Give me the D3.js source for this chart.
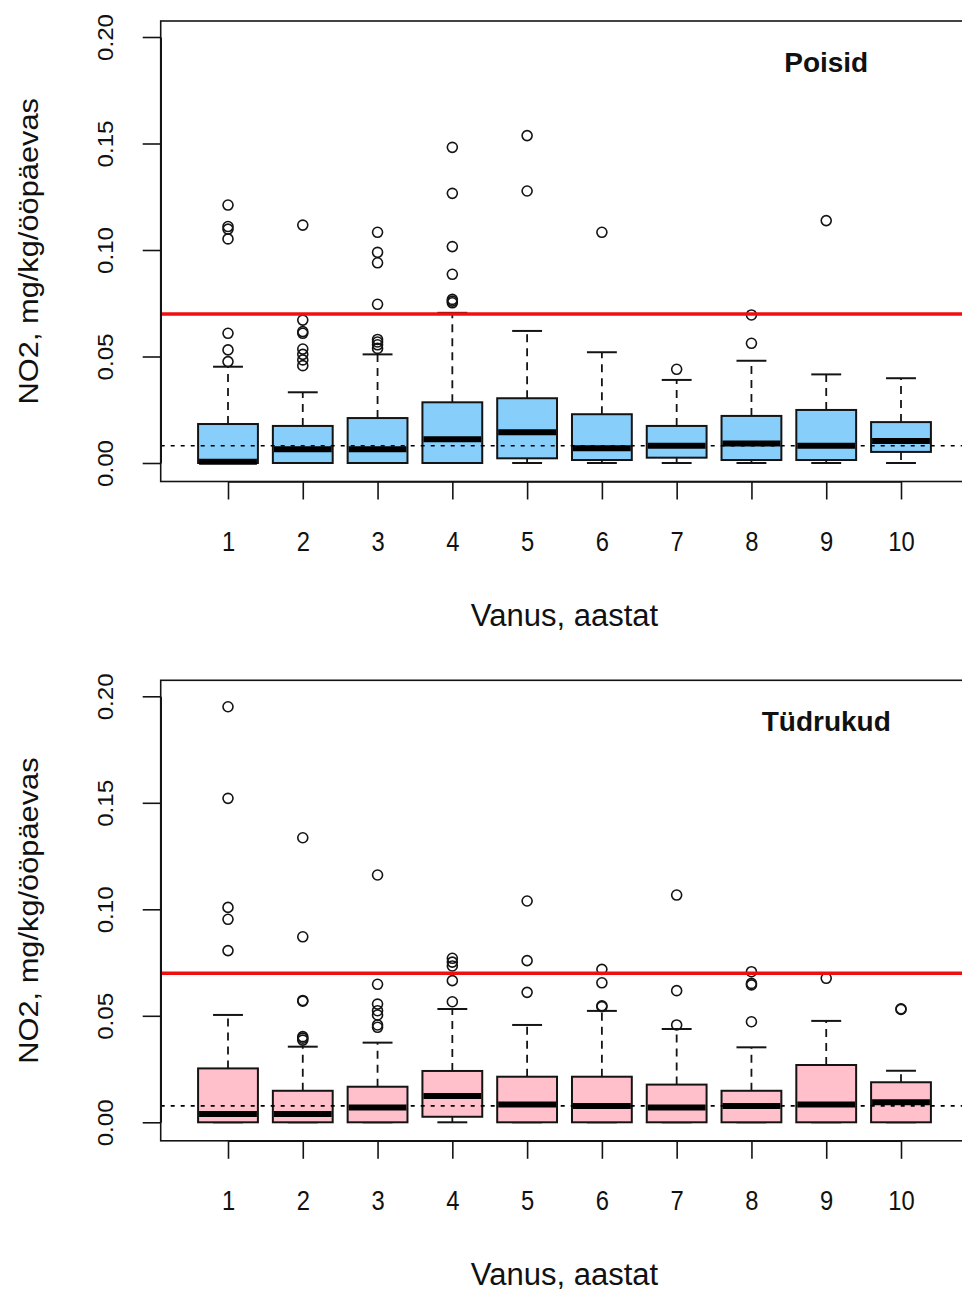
<!DOCTYPE html>
<html>
<head>
<meta charset="utf-8">
<script src="https://cdn.jsdelivr.net/npm/d3@7"></script>
<style>
  body { margin: 0; background: #fff; }
  svg text { font-family: "Liberation Sans", Arial, Helvetica, sans-serif; fill: #111; }
</style>
</head>
<body>
<svg id="chart" width="962" height="1295"></svg>
<script>
// Age groups (years)
const ages = [1, 2, 3, 4, 5, 6, 7, 8, 9, 10];
const yTicks = [0, 0.05, 0.10, 0.15, 0.20];

// Reference levels, mg/kg/day
const limitLevel = 0.07;
const boysDotted = 0.0081;
const girlsDotted = 0.0077;

// Boys: five-number summaries per age
const boysLower  = [0, 0, 0, 0, 0, 0, 0, 0, 0, 0];
const boysQ1     = [0, 0, 0, 0, 0.0022, 0.0014, 0.0025, 0.0014, 0.0014, 0.0052];
const boysMedian = [0.0006, 0.0064, 0.0064, 0.0111, 0.0144, 0.0069, 0.0081, 0.0092, 0.0081, 0.0103];
const boysQ3     = [0.0183, 0.0174, 0.0211, 0.0285, 0.0304, 0.0229, 0.0174, 0.0221, 0.0249, 0.0192];
const boysUpper  = [0.0452, 0.0332, 0.0510, 0.0705, 0.0620, 0.0520, 0.0390, 0.0480, 0.0416, 0.0398];
const boysOutliers = [
  [0.0476, 0.0531, 0.0609, 0.1052, 0.1098, 0.1110, 0.1211],
  [0.0457, 0.0484, 0.0510, 0.0535, 0.0609, 0.0617, 0.0671, 0.1117],
  [0.0538, 0.0555, 0.0568, 0.0580, 0.0745, 0.0940, 0.0989, 0.1083],
  [0.0752, 0.0760, 0.0768, 0.0886, 0.1016, 0.1266, 0.1482],
  [0.1277, 0.1537],
  [0.1083],
  [0.0440],
  [0.0562, 0.0695],
  [0.1138],
  []
];

// Girls: five-number summaries per age
const girlsLower  = [0, 0, 0, 0, 0, 0, 0, 0, 0, 0];
const girlsQ1     = [0, 0, 0, 0.0026, 0, 0, 0, 0, 0, 0];
const girlsMedian = [0.0039, 0.0039, 0.0069, 0.0123, 0.0084, 0.0077, 0.0069, 0.0077, 0.0084, 0.0094];
const girlsQ3     = [0.0253, 0.0148, 0.0167, 0.0241, 0.0214, 0.0214, 0.0177, 0.0148, 0.0269, 0.0188];
const girlsUpper  = [0.0504, 0.0355, 0.0374, 0.0532, 0.0457, 0.0523, 0.0438, 0.0352, 0.0476, 0.0242];
const girlsOutliers = [
  [0.0806, 0.0953, 0.1009, 0.1521, 0.1951],
  [0.0386, 0.0395, 0.0402, 0.0569, 0.0572, 0.0871, 0.1336],
  [0.0446, 0.0457, 0.0504, 0.0524, 0.0555, 0.0648, 0.1161],
  [0.0566, 0.0665, 0.0734, 0.0752, 0.0770],
  [0.0610, 0.0759, 0.1039],
  [0.0543, 0.0547, 0.0655, 0.0718],
  [0.0457, 0.0618, 0.1067],
  [0.0472, 0.0645, 0.0652, 0.0707],
  [0.0676],
  [0.0530, 0.0533]
];

const panels = [
  { title: "Poisid", fill: "#87CEFA", lower: boysLower, q1: boysQ1, median: boysMedian,
    q3: boysQ3, upper: boysUpper, outliers: boysOutliers, dotted: boysDotted, offset: 0 },
  { title: "Tüdrukud", fill: "#FFC0CB", lower: girlsLower, q1: girlsQ1, median: girlsMedian,
    q3: girlsQ3, upper: girlsUpper, outliers: girlsOutliers, dotted: girlsDotted, offset: 659.3 }
];

const svg = d3.select("#chart");
const ink = "#141414";

// Shared horizontal scale: age index to pixel
const x = d3.scaleLinear().domain([1, 10]).range([228, 901]);
const boxHalf = x(1.4) - x(1);      // box width 0.8 units
const stapleHalf = x(1.2) - x(1);   // staple half as wide as box
const plotLeft = x(0.1), plotRight = x(10.9);
const frameTop = 21, frameBottom = 481.5;

panels.forEach(p => {
  const g = svg.append("g").attr("transform", `translate(0,${p.offset})`);
  const y = d3.scaleLinear().domain([0, 0.2]).range([463, 37]);

  const idx = d3.range(ages.length);

  // whiskers (dashed)
  const wg = g.append("g").attr("stroke", ink).attr("stroke-width", 1.8)
    .attr("stroke-dasharray", "8,6").attr("fill", "none");
  idx.forEach(i => {
    const cx = x(ages[i]);
    if (p.upper[i] > p.q3[i])
      wg.append("line").attr("x1", cx).attr("x2", cx).attr("y1", y(p.q3[i])).attr("y2", y(p.upper[i]));
    if (p.lower[i] < p.q1[i])
      wg.append("line").attr("x1", cx).attr("x2", cx).attr("y1", y(p.q1[i])).attr("y2", y(p.lower[i]));
  });

  // staples
  const sg = g.append("g").attr("stroke", ink).attr("stroke-width", 2);
  idx.forEach(i => {
    const cx = x(ages[i]);
    [p.upper[i], p.lower[i]].forEach(v => {
      sg.append("line").attr("x1", cx - stapleHalf).attr("x2", cx + stapleHalf)
        .attr("y1", y(v)).attr("y2", y(v));
    });
  });

  // boxes
  g.append("g").selectAll("rect").data(idx).join("rect")
    .attr("x", i => x(ages[i]) - boxHalf)
    .attr("width", 2 * boxHalf)
    .attr("y", i => y(p.q3[i]))
    .attr("height", i => y(p.q1[i]) - y(p.q3[i]))
    .attr("fill", p.fill)
    .attr("stroke", ink)
    .attr("stroke-width", 2);

  // medians
  g.append("g").selectAll("line").data(idx).join("line")
    .attr("x1", i => x(ages[i]) - boxHalf + 1)
    .attr("x2", i => x(ages[i]) + boxHalf - 1)
    .attr("y1", i => y(p.median[i]))
    .attr("y2", i => y(p.median[i]))
    .attr("stroke", "#000")
    .attr("stroke-width", 6);

  // outliers
  const pts = idx.flatMap(i => p.outliers[i].map(v => ({ age: ages[i], v })));
  g.append("g").selectAll("circle").data(pts).join("circle")
    .attr("cx", d => x(d.age))
    .attr("cy", d => y(d.v))
    .attr("r", 5)
    .attr("fill", "none")
    .attr("stroke", ink)
    .attr("stroke-width", 1.6);

  // limit line
  g.append("line")
    .attr("x1", plotLeft).attr("x2", plotRight)
    .attr("y1", y(limitLevel)).attr("y2", y(limitLevel))
    .attr("stroke", "#ee1010").attr("stroke-width", 3.5);

  // dotted reference line
  g.append("line")
    .attr("x1", plotLeft).attr("x2", plotRight)
    .attr("y1", y(p.dotted)).attr("y2", y(p.dotted))
    .attr("stroke", "#000").attr("stroke-width", 1.6)
    .attr("stroke-dasharray", "4,6");

  // plot frame
  g.append("rect")
    .attr("x", plotLeft).attr("y", frameTop)
    .attr("width", plotRight - plotLeft).attr("height", frameBottom - frameTop)
    .attr("fill", "none").attr("stroke", ink).attr("stroke-width", 1.6);

  // x axis
  const xAxis = g.append("g").attr("transform", `translate(0,${frameBottom})`)
    .call(d3.axisBottom(x).tickValues(ages).tickSize(18).tickSizeOuter(0).tickFormat(d3.format("d")));
  xAxis.select(".domain").attr("stroke", ink).attr("stroke-width", 1.6);
  xAxis.selectAll(".tick line").attr("stroke", ink).attr("stroke-width", 1.6);
  xAxis.selectAll(".tick text")
    .attr("y", 69.5).attr("dy", null)
    .attr("transform", "scale(0.88,1)")
    .style("font-size", "27px").attr("fill", "#111");

  // y axis
  const yAxis = g.append("g").attr("transform", `translate(${plotLeft},0)`)
    .call(d3.axisLeft(y).tickValues(yTicks).tickSize(18).tickSizeOuter(0).tickFormat(d3.format(".2f")));
  yAxis.select(".domain").attr("stroke", ink).attr("stroke-width", 1.6);
  yAxis.selectAll(".tick line").attr("stroke", ink).attr("stroke-width", 1.6);
  yAxis.selectAll(".tick text")
    .attr("x", null).attr("dy", null)
    .attr("text-anchor", "middle")
    .attr("transform", "translate(-48,0) rotate(-90) scale(1.1,1)")
    .style("font-size", "22px").attr("fill", "#111");

  // axis titles
  g.append("text")
    .attr("x", (plotLeft + plotRight) / 2).attr("y", 626)
    .attr("text-anchor", "middle")
    .style("font-size", "31px")
    .text("Vanus, aastat");

  g.append("text")
    .attr("transform", `translate(38,${(frameTop + frameBottom) / 2}) rotate(-90) scale(1.1,1)`)
    .attr("text-anchor", "middle")
    .style("font-size", "28px")
    .text("NO2, mg/kg/ööpäevas");

  // panel title
  g.append("text")
    .attr("x", x(9)).attr("y", 72)
    .attr("text-anchor", "middle")
    .style("font-size", "28px").style("font-weight", "bold")
    .text(p.title);
});
</script>
</body>
</html>
